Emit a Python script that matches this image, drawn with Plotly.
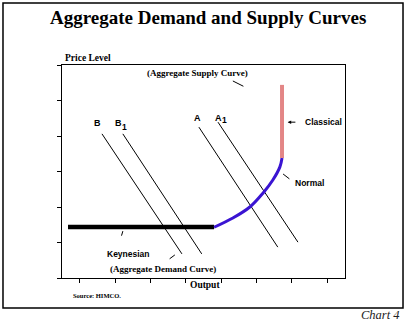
import plotly.graph_objects as go

# ---- data (axis units: output 0-8, price level 0-6) ----
demand_B_x = [1.13, 3.39]
demand_B_y = [4.06, 0.68]
demand_B1_x = [1.72, 3.95]
demand_B1_y = [4.06, 0.68]
demand_A_x = [3.87, 6.10]
demand_A_y = [4.25, 0.87]
demand_A1_x = [4.41, 6.67]
demand_A1_y = [4.39, 1.01]

keynesian_x = [0.17, 4.30]
keynesian_y = [1.44, 1.44]

normal_x = [4.30, 4.83, 5.31, 5.68, 5.96, 6.16, 6.22]
normal_y = [1.43, 1.69, 2.00, 2.39, 2.76, 3.13, 3.38]

classical_x = [6.22, 6.22]
classical_y = [3.38, 5.44]

x_ticks = [0.5, 1.5, 2.5, 3.5, 4.5, 5.5, 6.5, 7.5]
y_ticks = [0, 1, 2, 3, 4, 5, 6]

SERIF = "Liberation Serif"
SANS = "Liberation Sans"

fig = go.Figure()

for xs, ys in [(demand_B_x, demand_B_y), (demand_B1_x, demand_B1_y),
               (demand_A_x, demand_A_y), (demand_A1_x, demand_A1_y)]:
    fig.add_trace(go.Scatter(x=xs, y=ys, mode="lines",
                             line=dict(color="black", width=1), hoverinfo="skip"))

fig.add_trace(go.Scatter(x=keynesian_x, y=keynesian_y, mode="lines",
                         line=dict(color="black", width=4.5), hoverinfo="skip"))
fig.add_trace(go.Scatter(x=normal_x, y=normal_y, mode="lines",
                         line=dict(color="#3A14D2", width=3, shape="spline"), hoverinfo="skip"))
fig.add_trace(go.Scatter(x=classical_x, y=classical_y, mode="lines",
                         line=dict(color="#E38686", width=4), hoverinfo="skip"))

ann = []
def lab(x, y, text, size=8.5, family=SANS, xanchor="center", ref="x"):
    ann.append(dict(x=x, y=y, xref=ref, yref="y" if ref == "x" else "paper",
                    text=text, showarrow=False, xanchor=xanchor, yanchor="middle",
                    font=dict(family=family, size=size, color="black")))

def pointer(x0, y0, x1, y1, head=0):
    ann.append(dict(x=x1, y=y1, ax=x0, ay=y0, xref="x", yref="y", axref="x", ayref="y",
                    text="", showarrow=True, arrowhead=head, arrowsize=0.7,
                    arrowwidth=1, arrowcolor="black", standoff=0, startstandoff=0))

lab(0.99, 4.37, "<b>B</b>", size=9)
lab(1.61, 4.37, "<b>B</b>", size=9)
lab(1.78, 4.25, "<b>1</b>", size=8.5)
lab(3.82, 4.51, "<b>A</b>", size=9)
lab(4.42, 4.51, "<b>A</b>", size=9)
lab(4.58, 4.44, "<b>1</b>", size=8.5)
lab(6.81, 4.39, "<b>Classical</b>", xanchor="left")
pointer(6.64, 4.39, 6.38, 4.39, head=2)
lab(6.53, 2.68, "<b>Normal</b>", xanchor="left")
pointer(6.47, 2.76, 6.25, 2.93)
lab(1.87, 0.68, "<b>Keynesian</b>")
pointer(1.67, 1.15, 1.72, 1.32)
lab(2.86, 0.25, "<b>(Aggregate Demand Curve)</b>", size=9, family=SERIF)
pointer(3.00, 0.51, 3.19, 0.65)
lab(3.82, 5.77, "<b>(Aggregate Supply Curve)</b>", size=9, family=SERIF)
pointer(5.17, 5.38, 4.83, 5.55)

def plab(x, y, text, size, family=SERIF, xanchor="center", color="black"):
    ann.append(dict(x=x, y=y, xref="paper", yref="paper", text=text, showarrow=False,
                    xanchor=xanchor, yanchor="middle",
                    font=dict(family=family, size=size, color=color)))

plab(0.516, 1.225, "<b>Aggregate Demand and Supply Curves</b>", 19)
plab(0.0035, 1.033, "<b>Price Level</b>", 9.5, xanchor="left")
plab(0.505, -0.033, "<b>Output</b>", 9.5)
plab(0.032, -0.080, "<b>Source: HIMCO.</b>", 6.5, xanchor="left")
plab(1.201, -0.174, "<i>Chart 4</i>", 12.5, xanchor="right", color="#222222")

fig.update_layout(
    width=405, height=324,
    margin=dict(l=62, r=60, t=65, b=46),
    paper_bgcolor="white", plot_bgcolor="white",
    showlegend=False,
    annotations=ann,
    shapes=[dict(type="rect", xref="paper", yref="paper",
                 x0=-0.2085, x1=1.205, y0=-0.1408, y1=1.291,
                 line=dict(color="black", width=1.5), fillcolor="rgba(0,0,0,0)")],
    xaxis=dict(range=[0, 8], showgrid=False, zeroline=False, showline=True, mirror=True,
               linecolor="black", linewidth=1, ticks="outside", ticklen=4, tickcolor="black",
               tickvals=x_ticks, showticklabels=False, fixedrange=True),
    yaxis=dict(range=[0, 6], showgrid=False, zeroline=False, showline=True, mirror=True,
               linecolor="black", linewidth=1, ticks="outside", ticklen=4, tickcolor="black",
               tickvals=y_ticks, showticklabels=False, fixedrange=True),
)

fig.write_html("out.html", config={"displayModeBar": False})
